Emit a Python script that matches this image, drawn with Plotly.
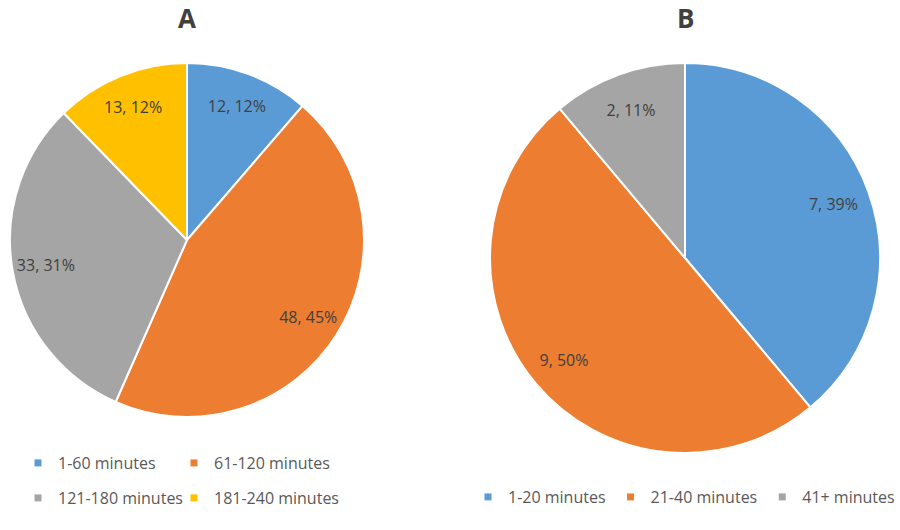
import plotly.graph_objects as go

# ---- data ----
titles = ["A", "B"]
cats_a = ["1-60 minutes", "61-120 minutes", "121-180 minutes", "181-240 minutes"]
vals_a = [12, 48, 33, 13]
pcts_a = [12, 45, 31, 12]
cats_b = ["1-20 minutes", "21-40 minutes", "41+ minutes"]
vals_b = [7, 9, 2]
pcts_b = [39, 50, 11]

# ---- styles ----
colors_a = ["#5B9BD5", "#ED7D31", "#A5A5A5", "#FFC000"]
colors_b = ["#5B9BD5", "#ED7D31", "#A5A5A5"]
FONT = "Open Sans"
W, H = 900, 530

dom_a = dict(x=[10 / W, 364 / W], y=[1 - 417 / H, 1 - 63 / H])
dom_b = dict(x=[490 / W, 880 / W], y=[1 - 453 / H, 1 - 63 / H])

fig = go.Figure()


def add_pie(cats, vals, pcts, colors, dom):
    # the coloured slices
    fig.add_trace(go.Pie(
        labels=cats, values=vals, sort=False, direction="clockwise", rotation=0,
        marker=dict(colors=colors, line=dict(color="white", width=2)),
        textinfo="none", showlegend=False, domain=dom,
    ))
    # transparent ring that carries the data labels near the rim
    fig.add_trace(go.Pie(
        labels=cats, values=vals, sort=False, direction="clockwise", rotation=0,
        hole=0.62,
        marker=dict(colors=["rgba(0,0,0,0)"] * len(vals), line=dict(width=0)),
        text=[f"{v}, {p}%" for v, p in zip(vals, pcts)], textinfo="text",
        textposition="inside", insidetextorientation="horizontal",
        textfont=dict(family=FONT, size=16, color="#404040"),
        showlegend=False, hoverinfo="skip", domain=dom,
    ))


add_pie(cats_a, vals_a, pcts_a, colors_a, dom_a)
add_pie(cats_b, vals_b, pcts_b, colors_b, dom_b)

# legend entries: A uses a 2x2 grid (one legend per cell), B one row
legend_ids_a = ["legend", "legend2", "legend3", "legend4"]
for c, col, lid in zip(cats_a, colors_a, legend_ids_a):
    fig.add_trace(go.Scatter(
        x=[None], y=[None], mode="markers", name=c,
        marker=dict(symbol="square", size=7, color=col),
        legend=lid, hoverinfo="skip",
    ))
for c, col in zip(cats_b, colors_b):
    fig.add_trace(go.Scatter(
        x=[None], y=[None], mode="markers", name=c,
        marker=dict(symbol="square", size=7, color=col),
        legend="legend5", hoverinfo="skip",
    ))

leg_common = dict(orientation="h", xanchor="left", yanchor="middle",
                  font=dict(family=FONT, size=16, color="#595959"),
                  bgcolor="rgba(0,0,0,0)", borderwidth=0)

col_x = [18 / W, 174 / W]
row_y = [1 - 463 / H, 1 - 498 / H]

fig.update_layout(
    width=W, height=H,
    margin=dict(l=0, r=0, t=0, b=0),
    paper_bgcolor="white", plot_bgcolor="white",
    xaxis=dict(visible=False), yaxis=dict(visible=False),
    legend=dict(x=col_x[0], y=row_y[0], **leg_common),
    legend2=dict(x=col_x[1], y=row_y[0], **leg_common),
    legend3=dict(x=col_x[0], y=row_y[1], **leg_common),
    legend4=dict(x=col_x[1], y=row_y[1], **leg_common),
    legend5=dict(x=468 / W, y=1 - 497 / H, **leg_common),
    annotations=[
        dict(text=f"<b>{titles[0]}</b>", x=187 / W, y=1 - 18 / H, xref="paper", yref="paper",
             showarrow=False, xanchor="center", yanchor="middle",
             font=dict(family=FONT, size=26, color="#404040")),
        dict(text=f"<b>{titles[1]}</b>", x=685 / W, y=1 - 18 / H, xref="paper", yref="paper",
             showarrow=False, xanchor="center", yanchor="middle",
             font=dict(family=FONT, size=26, color="#404040")),
    ],
)

fig.write_html("out.html", config={"displayModeBar": False},
               post_script="document.body.style.margin='0';")
